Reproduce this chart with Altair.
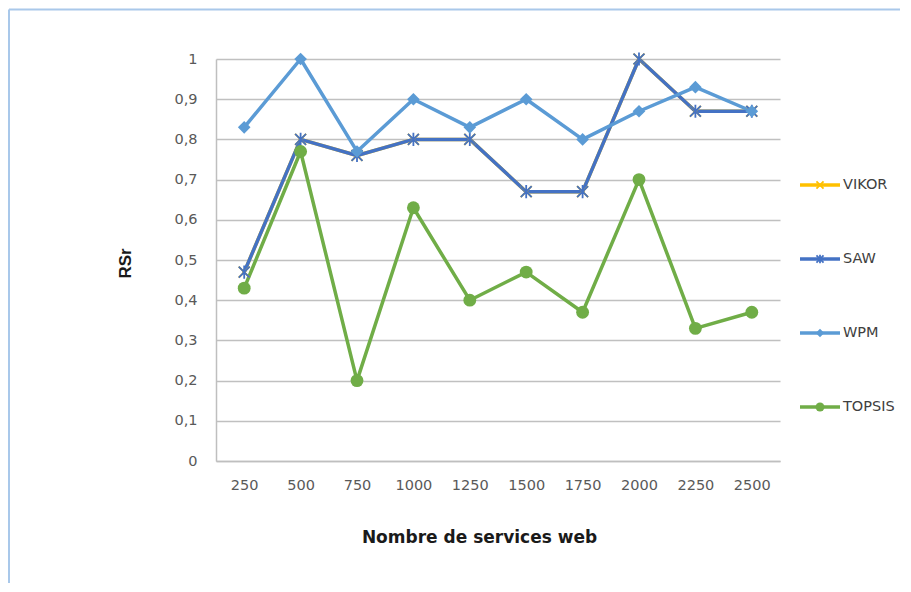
import altair as alt
import pandas as pd

# ---- data ----
services = ["250", "500", "750", "1000", "1250", "1500", "1750", "2000", "2250", "2500"]
series_names = ["VIKOR", "SAW", "WPM", "TOPSIS"]
vikor = [0.47, 0.80, 0.76, 0.80, 0.80, 0.67, 0.67, 1.00, 0.87, 0.87]
saw = [0.47, 0.80, 0.76, 0.80, 0.80, 0.67, 0.67, 1.00, 0.87, 0.87]
wpm = [0.83, 1.00, 0.77, 0.90, 0.83, 0.90, 0.80, 0.87, 0.93, 0.87]
topsis = [0.43, 0.77, 0.20, 0.63, 0.40, 0.47, 0.37, 0.70, 0.33, 0.37]
y_ticks = [0, 0.1, 0.2, 0.3, 0.4, 0.5, 0.6, 0.7, 0.8, 0.9, 1.0]
colors = ["#FFC000", "#4472C4", "#5B9BD5", "#70AD47"]

values = {"VIKOR": vikor, "SAW": saw, "WPM": wpm, "TOPSIS": topsis}
rows = []
for s in series_names:
    for n, v in zip(services, values[s]):
        rows.append({"series": s, "n": n, "v": v})
df = pd.DataFrame(rows)

X_PATH = "M-1,-1L1,1M-1,1L1,-1"
STAR_PATH = "M-1,-1L1,1M-1,1L1,-1M0,-1.2L0,1.2"
marker = {
    "VIKOR": dict(shape=X_PATH, filled=False, strokeWidth=1.8),
    "SAW": dict(shape=STAR_PATH, filled=False, strokeWidth=1.8),
    "WPM": dict(shape="diamond", filled=True),
    "TOPSIS": dict(shape="circle", filled=True),
}
main_size = {"VIKOR": 120, "SAW": 120, "WPM": 160, "TOPSIS": 165}
leg_size = {"VIKOR": 50, "SAW": 50, "WPM": 70, "TOPSIS": 80}

color = alt.Color("series:N", scale=alt.Scale(domain=series_names, range=colors), legend=None)

x_enc = alt.X(
    "n:O", sort=services, scale=alt.Scale(type="point", padding=0.5),
    axis=alt.Axis(
        title="Nombre de services web", labelAngle=0, labelPadding=17,
        ticks=False, tickSize=0, domain=True, domainColor="#BFBFBF", domainWidth=1.5,
        grid=False, titleFont="DejaVu Sans", titleFontSize=17, titleFontWeight="bold",
        titleColor="#1a1a1a", titleX=263, titleY=76, titleAlign="center", titleBaseline="middle",
    ),
)
y_enc = alt.Y(
    "v:Q", scale=alt.Scale(domain=[0, 1], nice=False),
    axis=alt.Axis(
        title="RSr", values=y_ticks,
        labelExpr="replace(format(datum.value, '.1~f'), '.', ',')",
        labelPadding=19, ticks=False, tickSize=0,
        domain=True, domainColor="#BFBFBF", domainWidth=1.5,
        grid=True, gridColor="#C0C0C0", gridWidth=1.6,
        titleFont="Liberation Sans", titleFontSize=17, titleFontWeight="bold",
        titleColor="#1a1a1a", titleAngle=270, titleX=-91, titleY=204,
        titleAlign="center", titleBaseline="middle",
    ),
)

line_layers = []
for s in series_names:
    line_layers.append(
        alt.Chart(df).transform_filter(alt.datum.series == s)
        .mark_line(strokeWidth=3.5, strokeJoin="round", strokeCap="round")
        .encode(x=x_enc, y=y_enc, color=color)
    )
point_layers = []
for s in series_names:
    point_layers.append(
        alt.Chart(df).transform_filter(alt.datum.series == s)
        .mark_point(opacity=1, size=main_size[s], **marker[s])
        .encode(x=x_enc, y=y_enc, color=color)
    )

# outer chart frame (light blue, top and left edges as in the reference)
frame_src = alt.Data(values=[{"k": 1}])
frame_color = "#A9C8EA"
frame_left = alt.Chart(frame_src).mark_rule(color=frame_color, strokeWidth=2).encode(
    x=alt.value(-207), y=alt.value(-49.5), y2=alt.value(524)
)
frame_top = alt.Chart(frame_src).mark_rule(color=frame_color, strokeWidth=2).encode(
    x=alt.value(-207), x2=alt.value(684), y=alt.value(-49.5)
)

main = alt.layer(frame_left, frame_top, *line_layers, *point_layers).properties(width=564, height=402)

# ---- legend panel ----
leg_rows = []
for s in series_names:
    leg_rows.append({"series": s, "pos": 0.0, "role": "line"})
    leg_rows.append({"series": s, "pos": 1.0, "role": "line"})
    leg_rows.append({"series": s, "pos": 0.5, "role": "mark"})
    leg_rows.append({"series": s, "pos": 1.0, "role": "text"})
leg_df = pd.DataFrame(leg_rows)

lx = alt.X("pos:Q", scale=alt.Scale(domain=[0, 1]), axis=None)
ly = alt.Y("series:N", sort=series_names, scale=alt.Scale(type="point", range=[126, 348], padding=0), axis=None)

leg_line = alt.Chart(leg_df).transform_filter(alt.datum.role == "line").mark_line(strokeWidth=3.5).encode(
    x=lx, y=ly, color=color
)
leg_marks = []
for s in series_names:
    leg_marks.append(
        alt.Chart(leg_df).transform_filter((alt.datum.role == "mark") & (alt.datum.series == s))
        .mark_point(opacity=1, size=leg_size[s], **marker[s])
        .encode(x=lx, y=ly, color=color)
    )
leg_text = alt.Chart(leg_df).transform_filter(alt.datum.role == "text").mark_text(
    align="left", baseline="middle", dx=3, font="DejaVu Sans", fontSize=14.5, color="#404040"
).encode(x=lx, y=ly, text="series:N")

legend = alt.layer(leg_line, *leg_marks, leg_text).properties(width=40, height=402)

chart = (
    alt.hconcat(main, legend, spacing=20, bounds="flush")
    .properties(padding=0)
    .configure_view(stroke=None)
    .configure_axis(labelFont="DejaVu Sans", labelFontSize=14.5, labelColor="#595959")
)

chart.save("out.html", embed_options={"renderer": "svg", "actions": False})
